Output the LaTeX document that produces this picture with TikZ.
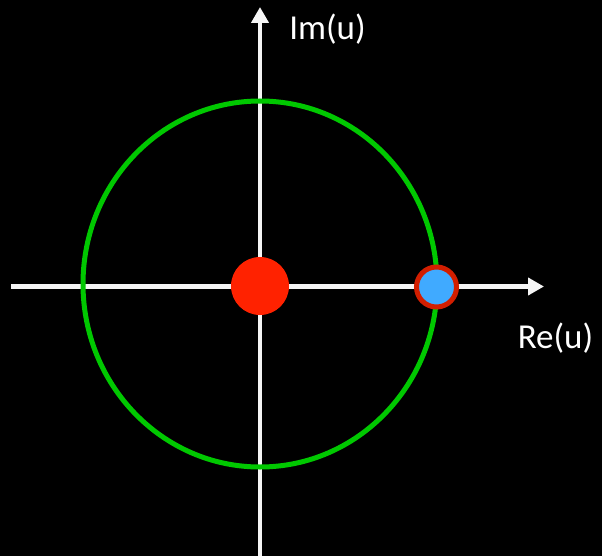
\documentclass[tikz,border=0pt]{standalone}
\usepackage{fontspec}
\setmainfont{Carlito}
\usetikzlibrary{arrows.meta}
\definecolor{axiswhite}{RGB}{245,245,245}
\definecolor{circgreen}{RGB}{0,200,0}
\definecolor{dotred}{RGB}{255,34,0}
\definecolor{ringred}{RGB}{210,30,0}
\definecolor{dotblue}{RGB}{64,170,255}
\begin{document}
\begin{tikzpicture}[x=1pt,y=-1pt,
  axis/.style={draw=axiswhite,line width=4.5pt,-{Triangle[length=16pt,width=17pt]}},
  lbl/.style={text=white,font=\fontsize{35}{42}\selectfont,inner sep=0pt}]
\fill[black] (0,0) rectangle (602,556);
\useasboundingbox (0,0) rectangle (602,556);
\coordinate (xs) at (11,286.5);
\coordinate (xe) at (544,286.5);
\coordinate (ys) at (260,556);
\coordinate (ye) at (260,7);
\draw[axis] (xs) -- (xe);
\draw[axis] (ys) -- (ye);
\draw[circgreen,line width=5pt] (260,284) ellipse [x radius=177,y radius=183];
\node[circle,fill=dotred,minimum size=58pt,inner sep=0pt] (c) at (260,286) {};
\node[circle,fill=dotblue,draw=ringred,line width=5pt,minimum size=40pt,inner sep=0pt] (p) at (436.5,287) {};
\node[lbl] (im) at (327.5,29) {Im(u)};
\node[lbl] (re) at (555.5,338) {Re(u)};
\end{tikzpicture}
\end{document}
